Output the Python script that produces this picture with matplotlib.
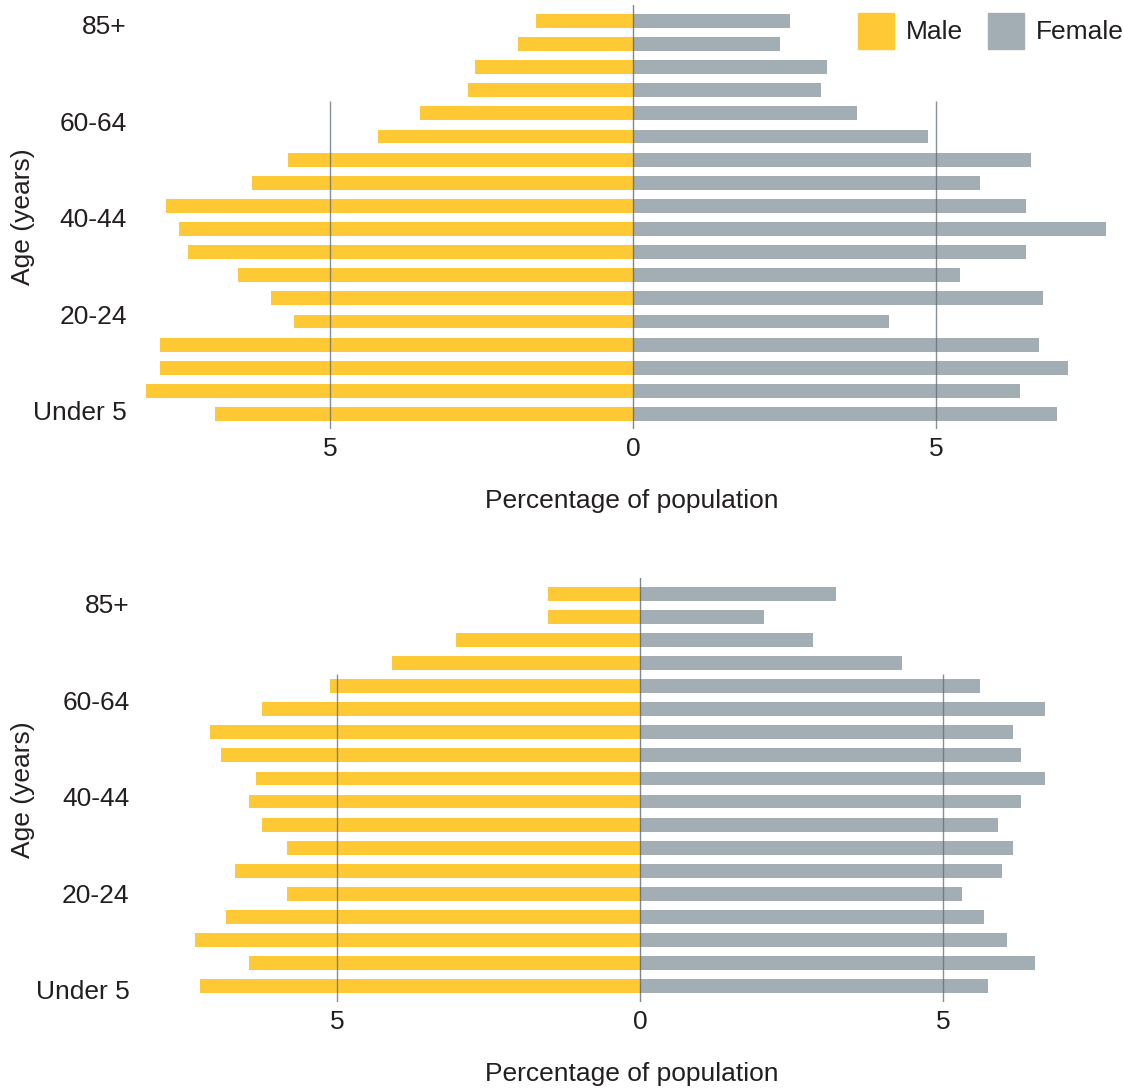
import matplotlib
matplotlib.use('Agg')
import matplotlib.pyplot as plt
from matplotlib.patches import Patch

plt.rcParams['font.family'] = ['Liberation Sans', 'DejaVu Sans']

# Возрастные группы (снизу вверх)
ages = ['Under 5', '5-9', '10-14', '15-19', '20-24', '25-29', '30-34', '35-39',
        '40-44', '45-49', '50-54', '55-59', '60-64', '65-69', '70-74', '75-79',
        '80-84', '85+']
tick_labels = ['Under 5', '20-24', '40-44', '60-64', '85+']

# Верхняя пирамида, % населения
male_top = [6.89, 8.03, 7.80, 7.80, 5.59, 5.98, 6.51, 7.35, 7.50, 7.71,
            6.28, 5.69, 4.21, 3.52, 2.72, 2.60, 1.90, 1.60]
female_top = [7.00, 6.39, 7.18, 6.70, 4.23, 6.77, 5.40, 6.48, 7.81, 6.49,
              5.73, 6.56, 4.86, 3.69, 3.10, 3.20, 2.43, 2.59]

# Нижняя пирамида, % населения
male_bot = [7.26, 6.46, 7.35, 6.83, 5.82, 6.68, 5.82, 6.23, 6.46, 6.34,
            6.91, 7.10, 6.23, 5.12, 4.09, 3.03, 1.51, 1.51]
female_bot = [5.75, 6.52, 6.05, 5.67, 5.31, 5.97, 6.16, 5.90, 6.28, 6.68,
              6.28, 6.16, 6.68, 5.61, 4.32, 2.85, 2.05, 3.23]

yellow = '#FFC936'
grey = '#A3AEB4'
text_color = '#231F20'
line_color = '#5F6B73'
fs = 19

W, H = 1124, 1090
fig = plt.figure(figsize=(W / 100, H / 100), dpi=100)

px = 60.6  # пикселей на 1 %


def pyramid(rect, zero_px, male, female, ticks, ylim, grid_top, ypad):
    ax = fig.add_axes(rect)
    y = range(len(ages))
    ax.barh(y, [-v for v in male], height=0.6, color=yellow, zorder=2)
    ax.barh(y, female, height=0.6, color=grey, zorder=2)
    left_px = rect[0] * W
    right_px = (rect[0] + rect[2]) * W
    ax.set_xlim((left_px - zero_px) / px, (right_px - zero_px) / px)
    ax.set_ylim(*ylim)
    ax.vlines([-5, 5], ylim[0], grid_top, color=line_color, lw=1, alpha=0.75, zorder=3)
    ax.axvline(0, color=line_color, lw=1, alpha=0.8, zorder=3)
    for s in ax.spines.values():
        s.set_visible(False)
    ax.set_xticks([-5, 0, 5])
    ax.set_xticklabels(['5', '0', '5'])
    ax.set_yticks(ticks)
    ax.set_yticklabels(tick_labels)
    ax.tick_params(length=0, labelsize=fs, colors=text_color)
    ax.tick_params(axis='x', pad=6)
    ax.tick_params(axis='y', pad=ypad)
    ax.set_xlabel('Percentage of population', fontsize=fs, color=text_color, labelpad=20)
    ax.set_ylabel('Age (years)', fontsize=fs, color=text_color)
    ax.yaxis.set_label_coords(-0.107, 0.5)
    return ax


ax1 = pyramid([140 / W, (H - 429) / H, (W - 140) / W, 424 / H], 633,
              male_top, female_top, [0.15, 4.3, 8.48, 12.67, 16.85],
              (-0.65, 17.69), 13.54, 9.5)
ax2 = pyramid([140 / W, (H - 1002) / H, (W - 140) / W, 424 / H], 640,
              male_bot, female_bot, [-0.15, 4.03, 8.2, 12.38, 16.57],
              (-0.69, 17.69), 13.53, 7.5)

handles = [Patch(color=yellow, label='Male'), Patch(color=grey, label='Female')]
fig.legend(handles=handles, loc='upper left', bbox_to_anchor=(858 / W, 1 - 13 / H),
           ncol=2, frameon=False, fontsize=fs, labelcolor=text_color,
           handlelength=1.36, handleheight=1.7, handletextpad=0.45,
           columnspacing=0.95, borderpad=0, borderaxespad=0)

fig.savefig('out.png', dpi=100)
